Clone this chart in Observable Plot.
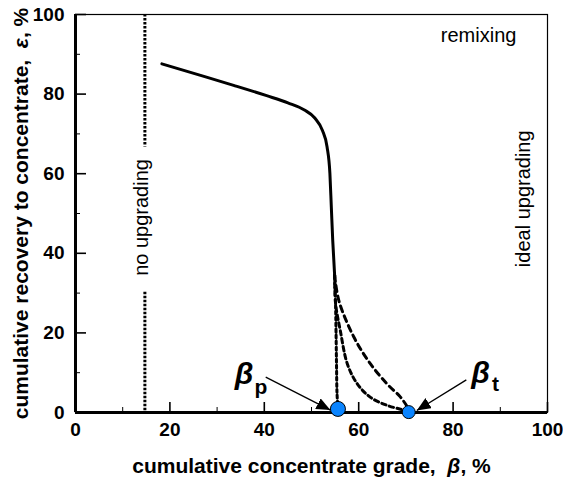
<!DOCTYPE html>
<html>
<head>
<meta charset="utf-8">
<script src="https://cdn.jsdelivr.net/npm/d3@7"></script>
<script src="https://cdn.jsdelivr.net/npm/@observablehq/plot@0.6"></script>
<style>
  html, body { margin: 0; padding: 0; background: #fff; }
  #chart svg { display: block; }
</style>
</head>
<body>
<div id="chart"></div>
<script>
// ---- data ----
const xMajor = [0, 20, 40, 60, 80, 100];
const xMinor = [10, 30, 50, 70, 90];
const yMajor = [0, 20, 40, 60, 80, 100];
const yMinor = [10, 30, 50, 70, 90];

const solidGrade    = [18.3, 26.5, 33.5, 40.5, 45.0, 48.5, 50.7, 52.3, 53.3, 53.9, 54.2, 54.5, 54.9];
const solidRecovery = [87.6, 84.7, 82.2, 79.6, 77.8, 76.0, 74.0, 70.9, 66.7, 60.0, 51.6, 43.2, 34.5];

const dotAGrade    = [54.9, 55.1, 55.2, 55.3, 55.4, 55.6];
const dotARecovery = [34.5, 27.0, 20.0, 12.0, 5.0, 1.0];

const dashBGrade    = [54.9, 55.1, 56.1, 57.6, 59.7, 62.5, 66.0, 69.6, 70.5];
const dashBRecovery = [34.5, 27.4, 20.6, 12.2, 7.2, 3.8, 1.8, 0.6, 0.3];

const dashCGrade    = [54.9, 55.8, 59.0, 62.5, 66.0, 68.9, 70.6];
const dashCRecovery = [34.5, 28.1, 18.9, 12.2, 7.2, 3.8, 0.9];

const noUpgradeX = [14.7, 14.7];
const noUpgradeY1 = [100, 30.2];
const noUpgradeY2 = [66.7, 0];

const pointNames = ["βp", "βt"];
const pointGrade = [55.6, 70.6];
const pointRecovery = [0.9, 0.1];
const pointRadius = [7.5, 6.5];

const arrowFromX = [40.3, 82.8];
const arrowFromY = [8.9, 8.2];
const arrowToX = [54.0, 72.3];
const arrowToY = [0.6, 0.5];

const betaLabelX = [35.7, 85.8];
const betaLabelY = [9.7, 9.8];
const betaSub = ["p", "t"];

const noteTexts = ["remixing", "no upgrading", "ideal upgrading"];
const noteX = [85.4, 14.1, 95.0];
const noteY = [94.7, 49.0, 53.7];
const noteRotate = [0, -90, -90];

// ---- build tables ----
const solid = solidGrade.map((g, i) => ({g, r: solidRecovery[i]}));
const lineA = dotAGrade.map((g, i) => ({g, r: dotARecovery[i]}));
const lineB = dashBGrade.map((g, i) => ({g, r: dashBRecovery[i]}));
const lineC = dashCGrade.map((g, i) => ({g, r: dashCRecovery[i]}));
const noUp = noUpgradeX.map((x, i) => ({x, y1: noUpgradeY1[i], y2: noUpgradeY2[i]}));
const pts = pointNames.map((n, i) => ({n, g: pointGrade[i], r: pointRecovery[i], rad: pointRadius[i]}));
const arrows = arrowFromX.map((x1, i) => ({x1, y1: arrowFromY[i], x2: arrowToX[i], y2: arrowToY[i]}));
const betas = betaLabelX.map((x, i) => ({x, y: betaLabelY[i], sub: betaSub[i]}));
const notes = noteTexts.map((t, i) => ({t, x: noteX[i], y: noteY[i], rot: noteRotate[i]}));

const W = 563, H = 483;
const mL = 75, mR = 16, mT = 14, mB = 71;
const plotW = W - mL - mR, plotH = H - mT - mB;
const FONT = "Liberation Sans, Arial, Helvetica, sans-serif";

function filledArrow(color, context) {
  const doc = context && context.document ? context.document : document;
  const ns = "http://www.w3.org/2000/svg";
  const m = doc.createElementNS(ns, "marker");
  m.setAttribute("viewBox", "-14 -6 15 12");
  m.setAttribute("markerWidth", "15");
  m.setAttribute("markerHeight", "12");
  m.setAttribute("markerUnits", "userSpaceOnUse");
  m.setAttribute("orient", "auto");
  m.setAttribute("refX", "0");
  m.setAttribute("refY", "0");
  const p = doc.createElementNS(ns, "path");
  p.setAttribute("d", "M-14,-6L0,0L-14,6Z");
  p.setAttribute("fill", "black");
  p.setAttribute("stroke", "none");
  m.appendChild(p);
  return m;
}

const chart = Plot.plot({
  width: W,
  height: H,
  marginLeft: mL,
  marginRight: mR,
  marginTop: mT,
  marginBottom: mB,
  style: {fontFamily: FONT, fontSize: "17px", background: "#fff", color: "#000"},
  x: {domain: [0, 100]},
  y: {domain: [0, 100]},
  r: {type: "identity"},
  marks: [
    Plot.frame({stroke: "#000", strokeWidth: 1.2}),
    Plot.axisX({ticks: xMajor, tickSize: 0, tickPadding: 10, fontSize: 19, fontWeight: "bold",
      label: "cumulative concentrate grade,  β, %", labelAnchor: "center", labelArrow: "none", labelOffset: 60}),
    Plot.axisY({ticks: yMajor, tickSize: 0, tickPadding: 11, fontSize: 19, fontWeight: "bold",
      label: "cumulative recovery to concentrate,  ε, %", labelAnchor: "center", labelArrow: "none", labelOffset: 62}),
    Plot.tickX(xMajor, {x: d => d, insetTop: plotH - 10, strokeWidth: 1.6}),
    Plot.tickX(xMinor, {x: d => d, insetTop: plotH - 5, strokeWidth: 1}),
    Plot.tickY(yMajor, {y: d => d, insetRight: plotW - 11, strokeWidth: 1.6}),
    Plot.tickY(yMinor, {y: d => d, insetRight: plotW - 5, strokeWidth: 1}),
    Plot.ruleX([0], {strokeWidth: 3}),
    Plot.ruleY([0], {strokeWidth: 3}),
    Plot.ruleX(noUp, {x: "x", y1: "y1", y2: "y2", strokeWidth: 3, strokeDasharray: "2.5,1.5"}),
    Plot.line(solid, {x: "g", y: "r", curve: "monotone-x", strokeWidth: 3}),
    Plot.line(lineA, {x: "g", y: "r", curve: "catmull-rom", strokeWidth: 3, strokeDasharray: "3,3"}),
    Plot.line(lineB, {x: "g", y: "r", curve: "catmull-rom", strokeWidth: 3, strokeDasharray: "4.5,3.5"}),
    Plot.line(lineC, {x: "g", y: "r", curve: "catmull-rom", strokeWidth: 3, strokeDasharray: "6,4.5"}),
    Plot.link(arrows, {x1: "x1", y1: "y1", x2: "x2", y2: "y2", stroke: "#000", strokeWidth: 1.3, markerEnd: filledArrow}),
    Plot.dot(pts, {x: "g", y: "r", r: "rad", fill: "#0a84ff", stroke: "#000", strokeWidth: 1}),
    Plot.text(betas, {x: "x", y: "y", text: () => "β", fontSize: 30, fontWeight: "bold", fontStyle: "italic", fill: "#000"}),
    Plot.text(betas, {x: "x", y: "y", text: "sub", dx: 17, dy: 13, fontSize: 21, fontWeight: "bold", fill: "#000", filter: (d, i) => i === 0}),
    Plot.text(betas, {x: "x", y: "y", text: "sub", dx: 15, dy: 11, fontSize: 21, fontWeight: "bold", fill: "#000", filter: (d, i) => i === 1}),
    Plot.text(notes, {x: "x", y: "y", text: "t", rotate: "rot", fontSize: 20, fill: "#000"})
  ]
});
chart.setAttribute("font-family", FONT);

chart.querySelectorAll('g[aria-label="x-axis tick label"], g[aria-label="y-axis tick label"]').forEach(g => {
  g.setAttribute("font-size", "19");
  g.setAttribute("font-weight", "bold");
});
const xl = chart.querySelector('g[aria-label="x-axis label"] text');
if (xl) xl.innerHTML = 'cumulative concentrate grade,  <tspan font-style="italic">β</tspan>, %';
const yl = chart.querySelector('g[aria-label="y-axis label"] text');
if (yl) yl.innerHTML = 'cumulative recovery to concentrate,  <tspan font-style="italic">ε</tspan>, %';
chart.querySelectorAll('g[aria-label="x-axis label"]').forEach(g => { g.setAttribute("font-size", "21"); g.setAttribute("font-weight", "bold"); });
chart.querySelectorAll('g[aria-label="y-axis label"]').forEach(g => { g.setAttribute("font-size", "21"); g.setAttribute("font-weight", "bold"); });
if (xl) { xl.setAttribute("font-size", "21"); xl.setAttribute("font-weight", "bold"); }
if (yl) { yl.setAttribute("font-size", "21"); yl.setAttribute("font-weight", "bold"); }

document.getElementById("chart").appendChild(chart);
</script>
</body>
</html>
